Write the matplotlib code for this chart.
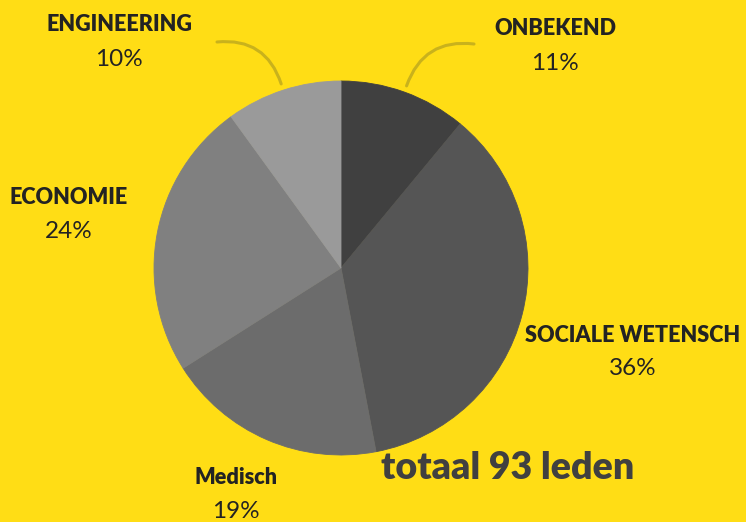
import numpy as np
import matplotlib
matplotlib.use("Agg")
import matplotlib.pyplot as plt

plt.rcParams['font.family'] = ['Lato', 'DejaVu Sans']

# data, clockwise from the top
categories = ["ONBEKEND", "SOCIALE WETENSCH", "Medisch", "ECONOMIE", "ENGINEERING"]
shares = [11, 36, 19, 24, 10]
slice_colors = ["#404040", "#555555", "#6c6c6c", "#808080", "#9a9a9a"]
total_members = 93

W, H = 746, 522
BG = "#ffdd15"
TXT = "#232323"

fig = plt.figure(figsize=(W / 100, H / 100), dpi=100, facecolor=BG)
ax = fig.add_axes([0, 0, 1, 1])
ax.set_facecolor(BG)

cx, cy, r = 341, H - 268, 187
wedges, _ = ax.pie(shares, colors=slice_colors, startangle=90, counterclock=False,
                   center=(cx, cy), radius=r)
for w in wedges:
    w.set_edgecolor(w.get_facecolor())
    w.set_linewidth(0.6)
ax.set_xlim(0, W)
ax.set_ylim(0, H)
ax.set_aspect("equal")
ax.axis("off")

# label anchors (pixel coords from top-left): name baseline, pct baseline
label_pos = {
    "ONBEKEND": (555, 35, 70),
    "SOCIALE WETENSCH": (633, 342, 375),
    "Medisch": (236, 484, 518),
    "ECONOMIE": (69, 204, 238),
    "ENGINEERING": (119, 31, 66),
}
# leader line end points (pixel coords) + curvature
leaders = {
    "ONBEKEND": (474, 44, 0.4),
    "ENGINEERING": (217, 42, -0.4),
}

cum = np.cumsum([0] + shares[:-1])
for name, val, c0 in zip(categories, shares, cum):
    x, yb, yp = label_pos[name]
    ax.text(x, H - yb, name, ha="center", va="baseline", fontsize=15.6,
            fontweight="heavy", color=TXT)
    ax.text(x, H - yp, f"{val}%", ha="center", va="baseline", fontsize=17.5,
            color=TXT)
    if name in leaders:
        mid = np.deg2rad(90 - (c0 + val / 2) / 100 * 360)
        sx = cx + r * 1.035 * np.cos(mid)
        sy = cy + r * 1.035 * np.sin(mid)
        ex, ey, rad = leaders[name]
        ax.annotate("", xy=(sx, sy), xytext=(ex, H - ey),
                    arrowprops=dict(arrowstyle="-", color="#c9b21c", lw=2.2,
                                    shrinkA=0, shrinkB=0,
                                    connectionstyle=f"arc3,rad={rad}"))

ax.text(508, H - 479, f"totaal {total_members} leden", ha="center",
        va="baseline", fontsize=27, fontweight="heavy", color="#404040")

fig.savefig("out.png", dpi=100, facecolor=BG)
